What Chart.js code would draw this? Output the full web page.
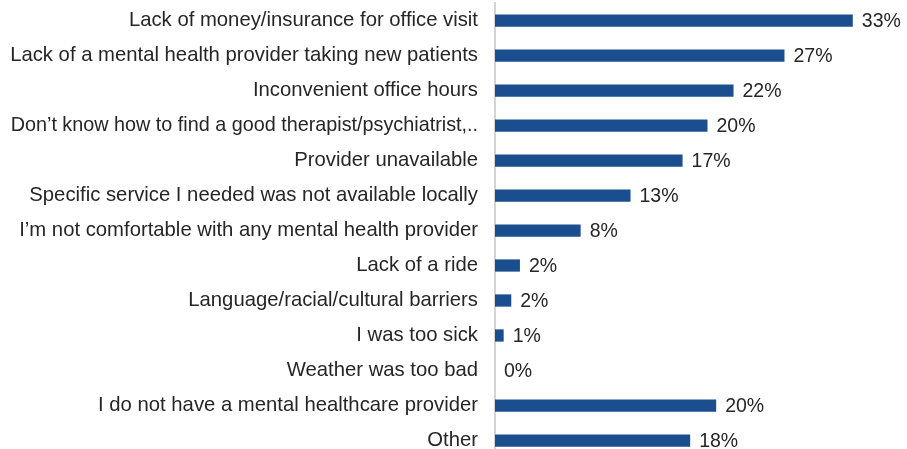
<!DOCTYPE html>
<html>
<head>
<meta charset="utf-8">
<script src="https://cdn.jsdelivr.net/npm/chart.js@4/dist/chart.umd.min.js"></script>
<style>
  html, body { margin: 0; padding: 0; background: #fff; overflow: hidden; }
  #wrap { width: 907px; height: 449px; overflow: hidden; }
</style>
</head>
<body>
<div id="wrap"><canvas id="chart" width="907" height="458"></canvas></div>
<script>
'use strict';

const reasons = [
  'Lack of money/insurance for office visit',
  'Lack of a mental health provider taking new patients',
  'Inconvenient office hours',
  'Don\u2019t know how to find a good therapist/psychiatrist,..',
  'Provider unavailable',
  'Specific service I needed was not available locally',
  'I\u2019m not comfortable with any mental health provider',
  'Lack of a ride',
  'Language/racial/cultural barriers',
  'I was too sick',
  'Weather was too bad',
  'I do not have a mental healthcare provider',
  'Other'
];
// bar lengths (percent)
const shares = [33, 26.7, 22, 19.6, 17.3, 12.5, 7.9, 2.3, 1.5, 0.8, 0, 20.4, 18];
// printed labels
const shareLabels = ['33%', '27%', '22%', '20%', '17%', '13%', '8%', '2%', '2%', '1%', '0%', '20%', '18%'];

const FONT = '"Liberation Sans", Arial, sans-serif';

// writes the percent next to each bar
const valueLabels = {
  id: 'valueLabels',
  afterDatasetsDraw(chart) {
    const ctx = chart.ctx;
    const meta = chart.getDatasetMeta(0);
    ctx.save();
    ctx.font = '19.5px ' + FONT;
    ctx.fillStyle = '#262626';
    ctx.textAlign = 'left';
    ctx.textBaseline = 'middle';
    meta.data.forEach((bar, i) => {
      ctx.fillText(shareLabels[i], bar.x + 9, bar.y + 1);
    });
    ctx.restore();
  }
};

const canvasElem = document.getElementById('chart');

new Chart(canvasElem, {
  type: 'bar',
  data: {
    labels: reasons,
    datasets: [{
      data: shares,
      backgroundColor: '#1a4e8e',
      borderWidth: 0,
      categoryPercentage: 1,
      barPercentage: 0.35
    }]
  },
  options: {
    indexAxis: 'y',
    responsive: false,
    animation: false,
    layout: { padding: { top: 3, left: 0, right: 0, bottom: 0 } },
    plugins: {
      legend: { display: false },
      tooltip: { enabled: false }
    },
    scales: {
      x: {
        display: false,
        min: 0,
        max: 38
      },
      y: {
        grid: { display: false, drawTicks: false },
        border: { display: true, color: '#d4d4d4', width: 2 },
        ticks: {
          padding: 17,
          color: '#262626',
          // the long, cut-off label is set a touch tighter
          font: ctx => ({ family: FONT, size: ctx.index === 3 ? 19.8 : 20.3 })
        },
        afterFit(scale) {
          scale.width = 495;
          scale.paddingTop = 0;
          scale.paddingBottom = 0;
        }
      }
    }
  },
  plugins: [valueLabels]
});
</script>
</body>
</html>
